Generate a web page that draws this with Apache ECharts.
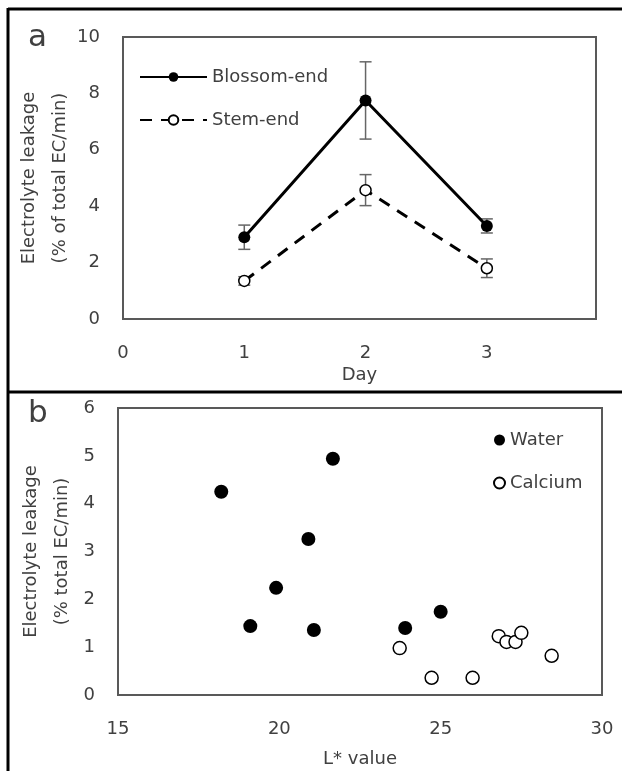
<!DOCTYPE html>
<html>
<head>
<meta charset="utf-8">
<script src="https://cdn.jsdelivr.net/npm/echarts@6/dist/echarts.min.js"></script>
<style>
html,body{margin:0;padding:0;background:#fff;}
#chart{width:622px;height:771px;}
</style>
</head>
<body>
<div id="chart"></div>
<script>
// ---- Panel a data ----
var days = [1, 2, 3];
var blossomEnd = [2.9, 7.75, 3.3];
var blossomErr = [0.43, 1.37, 0.25];
var stemEnd = [1.35, 4.57, 1.8];
var stemErr = [0.15, 0.55, 0.33];
var dayTicks = [0, 1, 2, 3];

// ---- Panel b data ----
var waterL = [18.2, 19.1, 19.9, 20.9, 21.07, 21.66, 23.9, 25.0];
var waterEL = [4.25, 1.44, 2.24, 3.26, 1.36, 4.94, 1.40, 1.74];
var calciumL = [23.73, 24.72, 25.99, 26.8, 27.04, 27.32, 27.5, 28.44];
var calciumEL = [0.98, 0.36, 0.36, 1.23, 1.11, 1.11, 1.30, 0.82];

var FONT = 'DejaVu Sans';
var TXT = '#404040';

function pairs(xs, ys) { return xs.map(function (x, i) { return [x, ys[i]]; }); }
function errData(xs, ys, es) { return xs.map(function (x, i) { return [x, ys[i] - es[i], ys[i] + es[i]]; }); }

function errRender(params, api) {
  var x = api.value(0), lo = api.value(1), hi = api.value(2);
  var pLo = api.coord([x, lo]), pHi = api.coord([x, hi]);
  var w = 6;
  var st = { stroke: '#666', lineWidth: 1.5 };
  return {
    type: 'group',
    children: [
      { type: 'line', shape: { x1: pLo[0], y1: pLo[1], x2: pHi[0], y2: pHi[1] }, style: st },
      { type: 'line', shape: { x1: pLo[0] - w, y1: pLo[1], x2: pLo[0] + w, y2: pLo[1] }, style: st },
      { type: 'line', shape: { x1: pHi[0] - w, y1: pHi[1], x2: pHi[0] + w, y2: pHi[1] }, style: st }
    ]
  };
}

var axisLabelStyle = { color: TXT, fontFamily: FONT, fontSize: 18 };
var nameStyle = { color: TXT, fontFamily: FONT, fontSize: 18 };

var chart = echarts.init(document.getElementById('chart'), null, { renderer: 'canvas' });
chart.setOption({
  backgroundColor: '#fff',
  animation: false,
  grid: [
    { left: 123, top: 37, width: 473, height: 282, show: true, borderColor: '#595959', borderWidth: 2, backgroundColor: 'transparent' },
    { left: 118, top: 408, width: 484, height: 287, show: true, borderColor: '#595959', borderWidth: 2, backgroundColor: 'transparent' }
  ],
  xAxis: [
    {
      gridIndex: 0, type: 'value', min: dayTicks[0], max: 3.9, interval: 1,
      axisLine: { show: false }, axisTick: { show: false }, splitLine: { show: false },
      axisLabel: Object.assign({ margin: 25, formatter: function (v) { return dayTicks.indexOf(v) >= 0 ? String(v) : ''; } }, axisLabelStyle),
      name: 'Day', nameLocation: 'middle', nameGap: 47, nameMoveOverlap: false, nameTextStyle: nameStyle
    },
    {
      gridIndex: 1, type: 'value', min: 15, max: 30, interval: 5,
      axisLine: { show: false }, axisTick: { show: false }, splitLine: { show: false },
      axisLabel: Object.assign({ margin: 25 }, axisLabelStyle),
      name: 'L* value', nameLocation: 'middle', nameGap: 55, nameMoveOverlap: false, nameTextStyle: nameStyle
    }
  ],
  yAxis: [
    {
      gridIndex: 0, type: 'value', min: 0, max: 10, interval: 2,
      axisLine: { show: false }, axisTick: { show: false }, splitLine: { show: false },
      axisLabel: Object.assign({ margin: 23 }, axisLabelStyle),
      name: 'Electrolyte leakage\n(% of total EC/min)', nameLocation: 'middle', nameRotate: 90, nameGap: 47,
      nameMoveOverlap: false,
      nameTextStyle: Object.assign({ lineHeight: 31 }, nameStyle)
    },
    {
      gridIndex: 1, type: 'value', min: 0, max: 6, interval: 1,
      axisLine: { show: false }, axisTick: { show: false }, splitLine: { show: false },
      axisLabel: Object.assign({ margin: 23 }, axisLabelStyle),
      name: 'Electrolyte leakage\n(% total EC/min)', nameLocation: 'middle', nameRotate: 90, nameGap: 40,
      nameMoveOverlap: false,
      nameTextStyle: Object.assign({ lineHeight: 31 }, nameStyle)
    }
  ],
  legend: [
    {
      data: ['Blossom-end', 'Stem-end'], orient: 'vertical', left: 134, top: 62,
      itemWidth: 67, itemHeight: 12, itemGap: 23,
      textStyle: { color: TXT, fontFamily: FONT, fontSize: 18, lineHeight: 20 }
    },
    {
      data: ['Water', 'Calcium'], orient: 'vertical', left: 488, top: 425,
      itemWidth: 11, itemHeight: 11, itemGap: 23,
      textStyle: { color: TXT, fontFamily: FONT, fontSize: 18, lineHeight: 20 }
    }
  ],
  graphic: [
    { type: 'line', shape: { x1: 8, y1: 9, x2: 622, y2: 9 }, style: { stroke: '#000', lineWidth: 3 } },
    { type: 'line', shape: { x1: 8, y1: 8, x2: 8, y2: 771 }, style: { stroke: '#000', lineWidth: 3 } },
    { type: 'line', shape: { x1: 8, y1: 392, x2: 622, y2: 392 }, style: { stroke: '#000', lineWidth: 3 } },
    { type: 'text', left: 28, top: 22, style: { text: 'a', fontFamily: FONT, fontSize: 31, fill: TXT } },
    { type: 'text', left: 28, top: 398, style: { text: 'b', fontFamily: FONT, fontSize: 31, fill: TXT } }
  ],
  series: [
    {
      name: 'BlossomErr', type: 'custom', xAxisIndex: 0, yAxisIndex: 0, z: 1,
      renderItem: errRender, data: errData(days, blossomEnd, blossomErr), encode: { x: 0, y: [1, 2] }
    },
    {
      name: 'StemErr', type: 'custom', xAxisIndex: 0, yAxisIndex: 0, z: 1,
      renderItem: errRender, data: errData(days, stemEnd, stemErr), encode: { x: 0, y: [1, 2] }
    },
    {
      name: 'Blossom-end', type: 'line', xAxisIndex: 0, yAxisIndex: 0, z: 3,
      data: pairs(days, blossomEnd), symbol: 'circle', symbolSize: 12,
      lineStyle: { color: '#000', width: 3 },
      itemStyle: { color: '#000' }
    },
    {
      name: 'Stem-end', type: 'line', xAxisIndex: 0, yAxisIndex: 0, z: 3,
      data: pairs(days, stemEnd), symbol: 'circle', symbolSize: 11,
      lineStyle: { color: '#000', width: 3, type: [12, 9] },
      itemStyle: { color: '#fff', borderColor: '#000', borderWidth: 1.5 }
    },
    {
      name: 'Water', type: 'scatter', xAxisIndex: 1, yAxisIndex: 1,
      data: pairs(waterL, waterEL), symbol: 'circle', symbolSize: 14,
      itemStyle: { color: '#000', opacity: 1 }
    },
    {
      name: 'Calcium', type: 'scatter', xAxisIndex: 1, yAxisIndex: 1,
      data: pairs(calciumL, calciumEL), symbol: 'circle', symbolSize: 13,
      itemStyle: { color: '#fff', borderColor: '#000', borderWidth: 1.5, opacity: 1 }
    }
  ]
});
</script>
</body>
</html>
